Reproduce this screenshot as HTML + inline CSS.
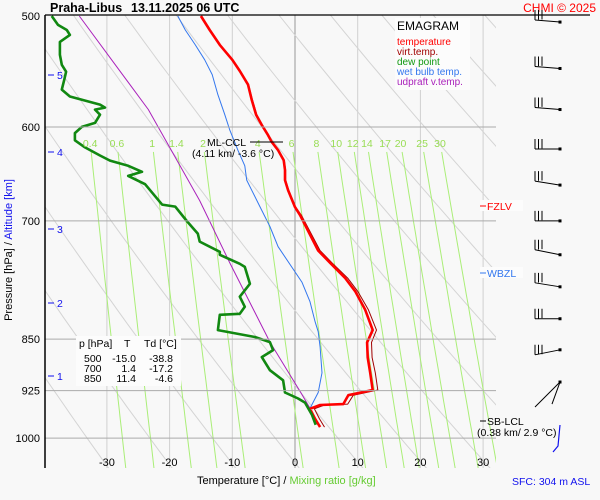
<!DOCTYPE html>
<html><head><meta charset="utf-8"><style>
body{margin:0;background:#f8f8f8;}
svg{display:block;font-family:"Liberation Sans",sans-serif;}
</style></head><body>
<svg id="c" width="600" height="500" viewBox="0 0 600 500">
<rect x="0" y="0" width="600" height="500" fill="#f8f8f8"/>
<defs><clipPath id="pc"><rect x="45" y="15" width="451" height="453"/></clipPath></defs>
<g id="grid" clip-path="url(#pc)"></g>
<g id="series" clip-path="url(#pc)"></g>
<g id="axes"></g>
<text x="50" y="12" font-size="12.5" font-weight="bold" fill="#000">Praha-Libus</text>
<text x="131" y="12" font-size="12.5" font-weight="bold" fill="#000">13.11.2025 06 UTC</text>
<text x="596" y="12" font-size="12" fill="#f00" text-anchor="end">CHMI © 2025</text>
<g>
<rect x="395" y="18" width="75" height="72" fill="#fcfcfc"/>
<text x="397" y="30" font-size="12" fill="#000">EMAGRAM</text>
<text x="397" y="45" font-size="10" fill="#f00">temperature</text>
<text x="397" y="55" font-size="10" fill="#a00000">virt.temp.</text>
<text x="397" y="65" font-size="10" fill="#119911">dew point</text>
<text x="397" y="75" font-size="10" fill="#3377ee">wet bulb temp.</text>
<text x="397" y="85" font-size="10" fill="#aa22bb">udpraft v.temp.</text>
</g>
<g font-size="10.5" fill="#000">
<rect x="76" y="336" width="105" height="50" fill="#fcfcfc"/>
<text x="79" y="347">p [hPa]</text><text x="124" y="347">T</text><text x="144" y="347">Td [°C]</text>
<text x="84" y="362">500</text><text x="136" y="362" text-anchor="end">-15.0</text><text x="173" y="362" text-anchor="end">-38.8</text>
<text x="84" y="372">700</text><text x="136" y="372" text-anchor="end">1.4</text><text x="173" y="372" text-anchor="end">-17.2</text>
<text x="84" y="382">850</text><text x="136" y="382" text-anchor="end">11.4</text><text x="173" y="382" text-anchor="end">-4.6</text>
</g>
<g>
<line x1="250" y1="142" x2="283" y2="142" stroke="#000" stroke-width="1"/>
<text x="207" y="146" font-size="10.5">ML-CCL</text>
<text x="192" y="157" font-size="10.5">(4.11 km/ -3.6 °C)</text>
</g>
<g><rect x="480" y="200" width="43" height="11" fill="#fcfcfc"/><line x1="480" y1="206" x2="486" y2="206" stroke="#f00"/><text x="487" y="210" font-size="10.5" fill="#f00">FZLV</text></g>
<g><rect x="480" y="267" width="43" height="11" fill="#fcfcfc"/><line x1="480" y1="273" x2="486" y2="273" stroke="#3377ee"/><text x="487" y="277" font-size="10.5" fill="#3377ee">WBZL</text></g>
<g><line x1="480" y1="421" x2="486" y2="421" stroke="#000"/><text x="487" y="425" font-size="10.5">SB-LCL</text><text x="477" y="436" font-size="10.5">(0.38 km/ 2.9 °C)</text></g>
<g id="barbs"></g>
<text x="197" y="484" font-size="11">Temperature [°C]  /  <tspan fill="#66cc33">Mixing ratio [g/kg]</tspan></text>
<text x="512" y="485" font-size="10.5" fill="#1111ee">SFC: 304 m ASL</text>
<text transform="translate(12,250) rotate(-90)" font-size="11" text-anchor="middle">Pressure [hPa]  /  <tspan fill="#1111ee">Altitude [km]</tspan></text>
</svg>
<script>
const tempP=[500,511.6,524.3,537.3,547.3,559.6,573.7,588,598,608,615,623.3,633.6,643.9,654.6,665.6,684.3,693.2,735,749.8,768.9,785.8,810,837.4,854.6,876,898.3,924,932,945.6,947,953,969,982];
const tempT=[-15.0,-13.6,-12.0,-10.0,-8.8,-7.5,-6.9,-6.2,-5.3,-4.3,-3.7,-2.7,-1.8,-1.6,-1.6,-1.1,0,0.8,3.7,5.6,8.0,9.6,11.2,12.4,11.5,11.6,12.0,12.4,8.5,7.7,4.0,2.4,3.2,4.0];
const virtT=[-14.9,-13.5,-11.9,-9.9,-8.7,-7.4,-6.8,-6.1,-5.2,-4.2,-3.6,-2.6,-1.7,-1.5,-1.5,-1.0,0.1,1.0,4.0,5.9,8.4,10.0,11.7,13.0,12.2,12.3,12.8,13.2,9.3,8.4,4.7,3.1,3.9,4.7];
const dewP=[500,507.4,511.6,515.8,521.7,532.9,541.7,547.9,555,564.2,570.7,578.3,581.2,583.1,588,595.9,599.9,606,613.2,620.4,628.7,634,639.4,645.8,650.1,659,672.3,681.5,683.7,700.7,714.7,724.2,736.4,740,751.1,754.9,776.2,792.8,806,815.3,816.7,837.4,847,854.1,865.4,875.4,894.4,909.4,927.8,937,943.3,962.2,978.3];
const dewT=[-38.8,-37.8,-36.4,-35.9,-37.5,-37.5,-37.2,-36.5,-36.8,-37.2,-35.9,-31.1,-30.3,-31.9,-31.1,-31.9,-34.0,-35.1,-35.1,-33.5,-31.1,-29.5,-26.6,-24.4,-26.6,-23.9,-22.3,-21.2,-19.1,-17.2,-15.5,-15.2,-12.0,-12.0,-8.8,-8.0,-7.2,-8.8,-8.0,-8.8,-12.0,-12.3,-6.4,-4.0,-3.5,-5.3,-4.0,-1.9,-1.6,0.5,1.6,2.7,3.3];
const wbP=[500,511.6,524.3,537.3,550.5,569,588,603,623.3,639.4,654.6,665.6,683.7,706.5,730.3,774,799.3,826,839.7,860.9,898.3,927.8,952.3];
const wbT=[-18.7,-17.5,-15.9,-14.4,-13.2,-12.3,-11.2,-10.4,-9.1,-8.0,-7.7,-6.9,-5.6,-4.0,-2.7,1.1,2.4,3.2,3.7,4.0,4.3,3.7,2.4];
const parP=[500,583,677,750,854,926,952];
const parT=[-34.4,-23.4,-15.2,-10.4,-4.0,0.8,2.4];
const pTicks=[500,600,700,850,925,1000];
const tTicks=[-30,-20,-10,0,10,20,30];
const mixVals=[0.4,0.6,1,1.4,2,4,6,8,10,12,14,17,20,25,30];
const thetas=[240,250,260,270,280,290,300,310,320,330,340,350,360,370,380];
const altKm=[1,2,3,4,5];
const altY=[376,303,229,152,75];
const windP=[505,545,583,622,660,700,740,780,822,865,912];
const windDy=[2,2,2,0,4,0,5,4,0,-5,-25];
const NS='http://www.w3.org/2000/svg';
function X(t){return 295+6.27*t;}
function Y(p){return 16+609*Math.log(p/500);}
function mk(tag,attrs,parent){const e=document.createElementNS(NS,tag);for(const k in attrs)e.setAttribute(k,attrs[k]);parent.appendChild(e);return e;}
const grid=document.getElementById('grid'),series=document.getElementById('series'),axes=document.getElementById('axes'),barbs=document.getElementById('barbs');
tTicks.forEach(t=>{const l=mk('line',{x1:X(t),x2:X(t),y1:15,y2:468,stroke:t===0?'#999':'#d0d0d0','stroke-width':1},grid);

});
thetas.forEach(th=>{let d='';for(let p=480;p<=1060;p+=10){const t=th*Math.pow(p/1000,0.2857)-273.15;d+=(d?'L':'M')+X(t).toFixed(1)+','+Y(p).toFixed(1);}
const l=mk('path',{d:d,fill:'none',stroke:'#d4d4d4','stroke-width':1},grid);

});
function tdFromW(w,p){const e=w*p/(622+w);const a=Math.log(e/6.112);return 243.5*a/(17.67-a);}
mixVals.forEach(w=>{let d='';for(let p=625;p<=1060;p+=15){d+=(d?'L':'M')+X(tdFromW(w,p)).toFixed(1)+','+Y(p).toFixed(1);}
const l=mk('path',{d:d,fill:'none',stroke:'#aaee77','stroke-width':1},grid);


const tx=mk('text',{x:X(tdFromW(w,615)),y:147,'font-size':10.5,fill:'#99dd55','text-anchor':'middle'},axes);
tx.textContent=String(w);

});
pTicks.forEach(p=>{if(p>500){const l=mk('line',{x1:45,x2:496,y1:Y(p),y2:Y(p),stroke:'#aaa','stroke-width':1},axes);

}
const tx=mk('text',{x:40,y:Y(p)+4,'font-size':11,'text-anchor':'end'},axes);tx.textContent=String(p);

});
tTicks.forEach(t=>{const tx=mk('text',{x:X(t),y:466,'font-size':11,'text-anchor':'middle'},axes);tx.textContent=String(t);

});
altKm.forEach((k,i)=>{mk('line',{x1:48,x2:54,y1:altY[i],y2:altY[i],stroke:'#1111ee'},axes);
const tx=mk('text',{x:57,y:altY[i]+4,'font-size':10.5,fill:'#1111ee'},axes);tx.textContent=String(k);

});
mk('line',{x1:45,x2:45,y1:15,y2:468,stroke:'#000','stroke-width':1.5},axes);
mk('line',{x1:45,x2:590,y1:15,y2:15,stroke:'#000','stroke-width':1.2},axes);
function line(P,T,color,w,name){let d='';P.forEach((p,i)=>{d+=(i?'L':'M')+X(T[i]).toFixed(1)+','+Y(p).toFixed(1);});
const l=mk('path',{d:d,fill:'none',stroke:color,'stroke-width':w,'stroke-linejoin':'round'},series);

}
line(parP,parT,'#aa22bb',1,'updraft-line');
line(wbP,wbT,'#3377ee',1,'wet-bulb-line');
line(virtT.map((v,i)=>tempP[i]),virtT,'#a00000',1,'virtual-temp-line');
line(tempP,tempT,'#ff0000',2.6,'temperature-line');
line(dewP,dewT,'#118811',2.6,'dew-point-line');
windP.forEach((p,i)=>{const y=Y(p);const g=mk('g',{},barbs);


const y0=y-windDy[i];
mk('line',{x1:535,y1:y0,x2:560,y2:y,stroke:'#000','stroke-width':1},g);
mk('rect',{x:558.5,y:y-1.5,width:3,height:3,fill:'#000'},g);
if(i<windP.length-1){for(let k=0;k<3;k++){mk('line',{x1:535+k*3.5,y1:y0-k*0.3,x2:535+k*3.5,y2:y0-10,stroke:'#000'},g);}}
else{mk('line',{x1:560,y1:y,x2:552,y2:y+22,stroke:'#000'},g);}});
mk('path',{d:'M560,425 L558,446 L553,452',fill:'none',stroke:'#1111ee','stroke-width':1.2},barbs);
</script>
</body></html>
